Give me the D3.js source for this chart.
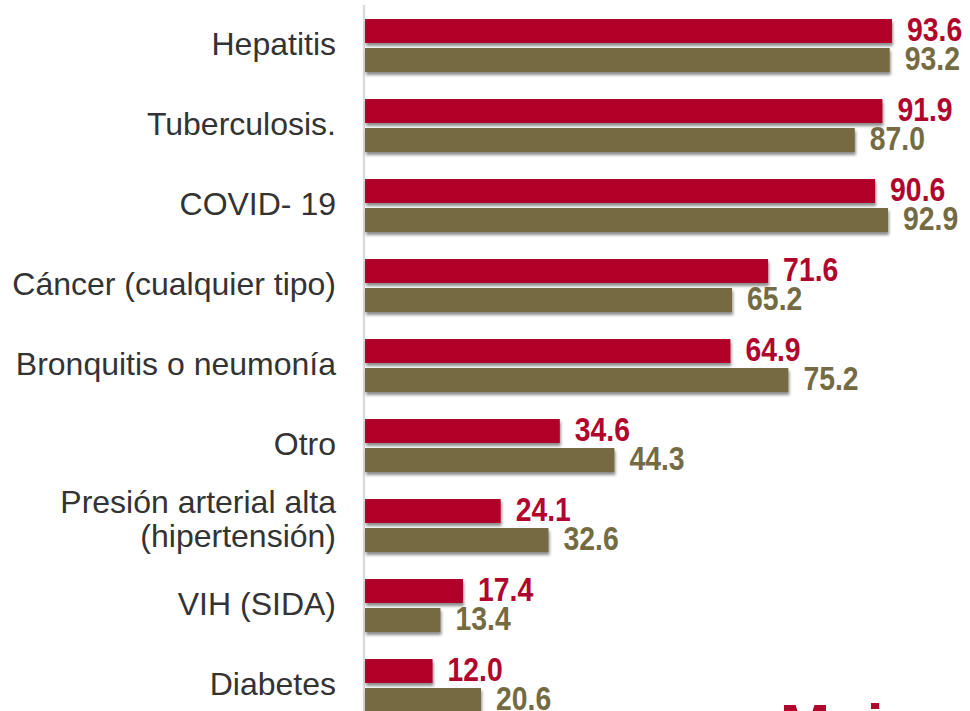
<!doctype html>
<html lang="es">
<head>
<meta charset="utf-8">
<script src="https://d3js.org/d3.v7.min.js"></script>
<style>
  body { margin: 0; background: #fff; }
  svg { display: block; }
  .cat { font-family: Arial, "Liberation Sans", sans-serif; font-size: 32px; fill: #333; }
  .val { font-family: Arial, "Liberation Sans", sans-serif; font-size: 33px; font-weight: bold; }
</style>
</head>
<body>
<svg id="chart" width="970" height="711"></svg>
<script>
// categories, top to bottom ("|" splits a label into two lines)
var categories = ["Hepatitis", "Tuberculosis.", "COVID- 19", "Cáncer (cualquier tipo)",
  "Bronquitis o neumonía", "Otro", "Presión arterial alta|(hipertensión)", "VIH (SIDA)", "Diabetes"];
var series = ["Mujeres", "Hombres"];
var mujeres = [93.6, 91.9, 90.6, 71.6, 64.9, 34.6, 24.1, 17.4, 12.0];
var hombres = [93.2, 87.0, 92.9, 65.2, 75.2, 44.3, 32.6, 13.4, 20.6];
var colors = ["#b0052c", "#756b43"];

var svg = d3.select("#chart");

// soft shadow under the bars
var f = svg.append("defs").append("filter").attr("id", "shadow")
  .attr("x", "-5%").attr("y", "-30%").attr("width", "115%").attr("height", "180%");
f.append("feDropShadow").attr("dx", 1).attr("dy", 3).attr("stdDeviation", 1.8)
  .attr("flood-color", "#000").attr("flood-opacity", 0.45);

var x = d3.scaleLinear().domain([0, 100]).range([365, 928]);
var y = d3.scaleBand().domain(categories).range([5.5, 725.5]).paddingInner(0.3375).paddingOuter(0.16875);
var ySub = d3.scaleBand().domain(series).range([0, y.bandwidth()]).paddingInner(0.1724);

var rows = categories.map(function(c, i) {
  return {cat: c, vals: [{s: series[0], v: mujeres[i]}, {s: series[1], v: hombres[i]}]};
});

// axis line
svg.append("line").attr("x1", 364).attr("x2", 364).attr("y1", 5).attr("y2", 711)
  .attr("stroke", "#d9d9d9").attr("stroke-width", 2.3);

var g = svg.selectAll("g.row").data(rows).enter().append("g").attr("class", "row")
  .attr("transform", function(d) { return "translate(0," + y(d.cat) + ")"; });

g.selectAll("rect").data(function(d) { return d.vals; }).enter().append("rect")
  .attr("x", x(0))
  .attr("y", function(d) { return ySub(d.s); })
  .attr("width", function(d) { return x(d.v) - x(0); })
  .attr("height", ySub.bandwidth())
  .attr("fill", function(d, i) { return colors[i]; })
  .attr("filter", "url(#shadow)");

// value labels, narrowed to mimic a condensed bold face
g.selectAll("text.val").data(function(d) { return d.vals; }).enter().append("text")
  .attr("class", "val")
  .attr("transform", function(d) {
    return "translate(" + (x(d.v) + 15) + "," + (ySub(d.s) + ySub.bandwidth() - 2) + ") scale(0.86,1)";
  })
  .attr("fill", function(d, i) { return colors[i]; })
  .text(function(d) { return d.v.toFixed(1); });

// category labels
g.each(function(d) {
  var lines = d.cat.split("|");
  var t = d3.select(this).append("text").attr("class", "cat").attr("text-anchor", "end");
  var mid = y.bandwidth() / 2;
  if (lines.length === 1) {
    t.append("tspan").attr("x", 336).attr("y", mid + 9).text(lines[0]);
  } else {
    t.append("tspan").attr("x", 336).attr("y", mid - 13).text(lines[0]);
    t.append("tspan").attr("x", 336).attr("y", mid + 21).text(lines[1]);
  }
});

// legend text, mostly below the visible area
svg.append("text").attr("x", 780).attr("y", 746)
  .attr("font-family", "Arial, 'Liberation Sans', sans-serif").attr("font-size", 60)
  .attr("font-weight", "bold").attr("fill", colors[0]).text(series[0]);
</script>
</body>
</html>
